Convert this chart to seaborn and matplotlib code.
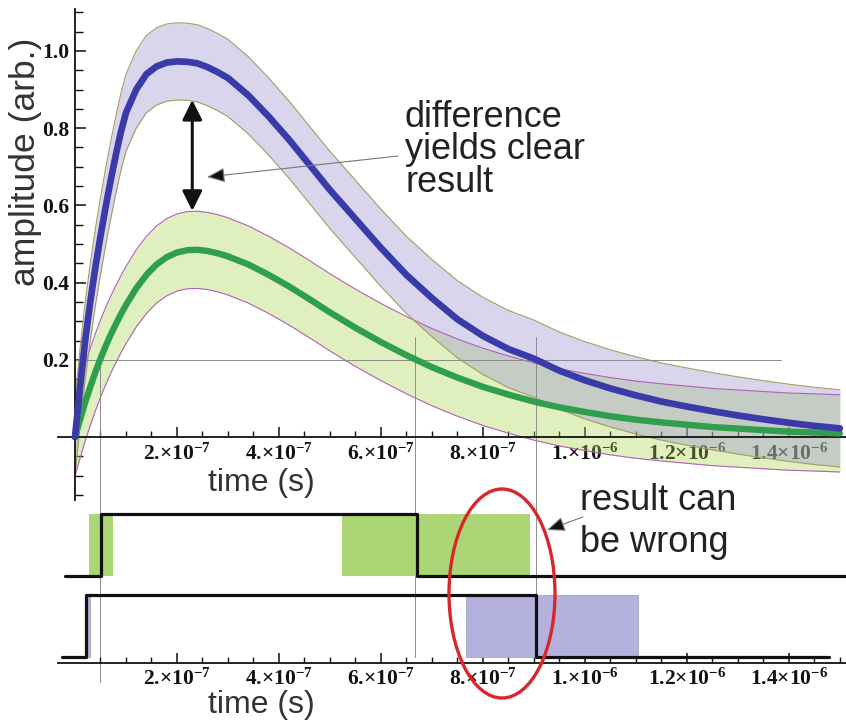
import numpy as np
import matplotlib
matplotlib.use("Agg")
import matplotlib.pyplot as plt
import seaborn as sns
from matplotlib.patches import Ellipse, Rectangle
from matplotlib.ticker import FixedLocator

# ---------------- data ----------------
time_1e7s = [0, 0.1, 0.2, 0.3, 0.4, 0.5, 0.6, 0.7, 0.8, 0.9, 1.0, 1.2, 1.4, 1.6, 1.8,
             2.0, 2.2, 2.4, 2.6, 2.8, 3.0, 3.4, 3.8, 4.2, 4.6, 5.0, 5.5, 6.0, 6.5, 7.0,
             7.5, 8.0, 8.5, 9.0, 9.5, 10.0, 10.5, 11.0, 11.5, 12.0, 12.5, 13.0, 13.5,
             14.0, 14.5, 15.0]
blue_amplitude = [0.0, 0.13, 0.25, 0.35, 0.44, 0.52, 0.595, 0.665, 0.73, 0.79, 0.84,
                  0.90, 0.94, 0.96, 0.970, 0.973, 0.972, 0.968, 0.958, 0.945, 0.93,
                  0.885, 0.83, 0.77, 0.705, 0.64, 0.565, 0.49, 0.42, 0.36, 0.305,
                  0.262, 0.228, 0.203, 0.172, 0.147, 0.126, 0.108, 0.092, 0.079,
                  0.067, 0.056, 0.046, 0.037, 0.029, 0.0225]
green_amplitude = [0.0, 0.045, 0.09, 0.13, 0.168, 0.203, 0.235, 0.265, 0.292, 0.318,
                   0.342, 0.385, 0.42, 0.447, 0.466, 0.478, 0.484, 0.485, 0.482, 0.476,
                   0.468, 0.447, 0.42, 0.39, 0.357, 0.323, 0.283, 0.246, 0.212, 0.181,
                   0.154, 0.13, 0.11, 0.092, 0.077, 0.065, 0.054, 0.045, 0.038, 0.032,
                   0.026, 0.022, 0.018, 0.014, 0.012, 0.0095]
band_half_width = 0.1

threshold_level = 0.2
threshold_line_end_1e7s = 13.85
threshold_times_1e7s = [0.5, 6.67, 9.05]

x_major_ticks_1e7s = [2, 4, 6, 8, 10, 12, 14]
x_tick_labels = ["2.×10$^{-7}$", "4.×10$^{-7}$", "6.×10$^{-7}$", "8.×10$^{-7}$",
                 "1.×10$^{-6}$", "1.2×10$^{-6}$", "1.4×10$^{-6}$"]
y_major_ticks = [0.2, 0.4, 0.6, 0.8, 1.0]
y_tick_labels = ["0.2", "0.4", "0.6", "0.8", "1.0"]

upper_gate_times_1e7s = [-0.196, 0.52, 6.70, 15.12]
upper_gate_states = [0, 1, 0, 0]
lower_gate_times_1e7s = [-0.255, 0.21, 9.05, 14.78]
lower_gate_states = [0, 1, 0, 0]
green_windows_1e7s = [(0.28, 0.75), (5.23, 8.92)]
blue_windows_1e7s = [(0.20, 0.29), (7.67, 11.04)]

# ---------------- styling ----------------
sns.set_theme(style="ticks")
plt.rcParams["font.family"] = ["Liberation Sans", "DejaVu Sans"]
plt.rcParams["mathtext.fontset"] = "custom"
plt.rcParams["mathtext.rm"] = "Liberation Serif:bold"
plt.rcParams["mathtext.it"] = "Liberation Serif:bold"
plt.rcParams["mathtext.bf"] = "Liberation Serif:bold"

S = 1e-7
t = np.array(time_1e7s) * S
blue = np.array(blue_amplitude)
green = np.array(green_amplitude)

BLUE_LINE = "#3a3aa8"
GREEN_LINE = "#2f9e4f"
BLUE_FILL = (0.618, 0.598, 0.833)
GREEN_FILL = (0.651, 0.831, 0.271)
BLUE_EDGE = "#a89c5c"
GREEN_EDGE = "#b25fb8"
GUIDE = "#8c8c8c"
TICK_FONT = ["Liberation Serif", "DejaVu Serif"]

W, H = 846, 724
fig = plt.figure(figsize=(W / 100, H / 100), dpi=100)
fig.patch.set_facecolor("white")

XMIN, XMAX = -0.333 * S, 15.12 * S
ax = fig.add_axes([58 / W, (H - 500) / H, 788 / W, 491.5 / H])
ax.set_xlim(XMIN, XMAX)
ax.set_ylim(-0.163, 1.11)
ax.patch.set_alpha(0)

# bands
ax.fill_between(t, green - band_half_width, green + band_half_width,
                color=GREEN_FILL, alpha=0.35, lw=0, zorder=1)
ax.fill_between(t, blue - band_half_width, blue + band_half_width,
                color=BLUE_FILL, alpha=0.4, lw=0, zorder=1.1)
for y in (green - band_half_width, green + band_half_width):
    ax.plot(t, y, color=GREEN_EDGE, lw=0.8, zorder=2)
for y in (blue - band_half_width, blue + band_half_width):
    ax.plot(t, y, color=BLUE_EDGE, lw=0.8, zorder=2)

# guide lines
ax.plot([0, threshold_line_end_1e7s * S], [threshold_level, threshold_level],
        color=GUIDE, lw=0.7, zorder=2.5)
for i, tt in enumerate(threshold_times_1e7s):
    top = threshold_level if i == 0 else threshold_level + 0.06
    ax.plot([tt * S, tt * S], [top, -0.163], color=GUIDE, lw=0.7, zorder=2.5)

sns.lineplot(x=t, y=green, ax=ax, color=GREEN_LINE, linewidth=4.6, zorder=3,
             legend=False, sort=False)
sns.lineplot(x=t, y=blue, ax=ax, color=BLUE_LINE, linewidth=4.8, zorder=4,
             legend=False, sort=False)

# double arrow
ax.annotate("", xy=(2.3 * S, 0.873), xytext=(2.3 * S, 0.586),
            arrowprops=dict(arrowstyle="<|-|>,head_length=1.2,head_width=0.6",
                            mutation_scale=10, lw=2.2, color="#111111",
                            shrinkA=0, shrinkB=0), zorder=6)

# axes look
for s in ("top", "right"):
    ax.spines[s].set_visible(False)
ax.spines["left"].set_position(("data", 0))
ax.spines["bottom"].set_position(("data", 0))
for s in ("left", "bottom"):
    ax.spines[s].set_linewidth(1.3)
    ax.spines[s].set_color("#111111")

def set_xticks(a, pad):
    a.xaxis.set_major_locator(FixedLocator([v * S for v in x_major_ticks_1e7s]))
    minors = [k * 0.5 * S for k in range(1, 31) if (k * 0.5) not in x_major_ticks_1e7s]
    a.xaxis.set_minor_locator(FixedLocator(minors))
    a.set_xticklabels(x_tick_labels)
    a.tick_params(axis="x", which="major", direction="in", length=7, width=1.1,
                  labelsize=15.5, pad=pad, bottom=True, colors="#111111")
    a.tick_params(axis="x", which="minor", direction="in", length=4, width=1.0,
                  bottom=True, colors="#111111")
    for lab in a.get_xticklabels():
        lab.set_fontfamily(TICK_FONT)
        lab.set_fontweight("bold")

set_xticks(ax, 5)
ax.yaxis.set_major_locator(FixedLocator(y_major_ticks))
yminor = [round(k * 0.05, 2) for k in range(-3, 23)
          if round(k * 0.05, 2) not in y_major_ticks and k != 0]
ax.yaxis.set_minor_locator(FixedLocator(yminor))
ax.set_yticklabels(y_tick_labels)
ax.tick_params(axis="y", which="major", direction="in", length=8, width=1.1,
               labelsize=15.5, pad=4, left=True, colors="#111111")
ax.tick_params(axis="y", which="minor", direction="in", length=6, width=1.0,
               left=True, colors="#111111")
for lab in ax.get_yticklabels():
    lab.set_fontfamily(TICK_FONT)
    lab.set_fontweight("bold")

ax.set_ylabel("amplitude (arb.)", fontsize=25.5, color="#333333")
ax.yaxis.set_label_coords(-0.02, 0.688)
ax.set_xlabel("time (s)", fontsize=23, color="#333333")
ax.xaxis.set_label_coords(0.2576, 0.066)

# ---------------- lower panel: gates ----------------
ax2 = fig.add_axes([58 / W, (H - 663.3) / H, 788 / W, 163.3 / H])
ax2.set_xlim(XMIN, XMAX)
ax2.set_ylim(0, 2.63)
ax2.patch.set_alpha(0)
for s in ("top", "right", "left"):
    ax2.spines[s].set_visible(False)
ax2.spines["bottom"].set_linewidth(1.3)
ax2.spines["bottom"].set_color("#111111")
ax2.set_yticks([])

UP_BASE, LOW_BASE = 1.4, 0.1
for t0, t1 in green_windows_1e7s:
    ax2.add_patch(Rectangle((t0 * S, UP_BASE), (t1 - t0) * S, 1.0,
                            facecolor="#acd676", edgecolor="none", zorder=1))
for t0, t1 in blue_windows_1e7s:
    ax2.add_patch(Rectangle((t0 * S, LOW_BASE), (t1 - t0) * S, 1.0,
                            facecolor="#b4b2dc", edgecolor="#9a9ab0", lw=0.5, zorder=1))

for i, tt in enumerate(threshold_times_1e7s):
    bottom = -0.3 if i == 0 else 0.1
    ax2.plot([tt * S, tt * S], [2.63, bottom], color=GUIDE, lw=0.7, zorder=0.5,
             clip_on=False)

sns.lineplot(x=np.array(upper_gate_times_1e7s) * S,
             y=UP_BASE + np.array(upper_gate_states), ax=ax2, color="#111111",
             linewidth=2.3, drawstyle="steps-post", zorder=3, legend=False, sort=False)
sns.lineplot(x=np.array(lower_gate_times_1e7s) * S,
             y=LOW_BASE + np.array(lower_gate_states), ax=ax2, color="#111111",
             linewidth=2.3, drawstyle="steps-post", zorder=3, legend=False, sort=False)

set_xticks(ax2, 4)
ax2.set_xlabel("time (s)", fontsize=23, color="#333333")
ax2.xaxis.set_label_coords(0.2576, -0.165)
ax2.set_ylabel("")

# ---------------- overlay annotations (pixel coordinates) ----------------
ov = fig.add_axes([0, 0, 1, 1], zorder=10)
ov.set_xlim(0, W)
ov.set_ylim(H, 0)
ov.axis("off")
ov.patch.set_alpha(0)

txt = dict(fontsize=26, color="#222222", va="baseline", ha="left")
ov.text(405, 126.7, "difference", **txt)
ov.text(405, 159.3, "yields clear", **txt)
ov.text(405, 191.7, "result", **txt)
ov.text(580, 509.5, "result can", **txt)
ov.text(580, 552, "be wrong", **txt)

ov.annotate("", xy=(207, 177), xytext=(398, 156),
            arrowprops=dict(arrowstyle="-|>,head_length=1.1,head_width=0.45",
                            mutation_scale=10, lw=0.8, ec="#777777", fc="#111111",
                            shrinkA=0, shrinkB=0))
ov.annotate("", xy=(547, 530), xytext=(583, 517),
            arrowprops=dict(arrowstyle="-|>,head_length=1.1,head_width=0.45",
                            mutation_scale=10, lw=0.8, ec="#777777", fc="#111111",
                            shrinkA=0, shrinkB=0))

ov.add_patch(Ellipse((502, 593.5), 106, 209, fill=False, ec="#d9262b", lw=2.4))

fig.savefig("out.png", dpi=100)
